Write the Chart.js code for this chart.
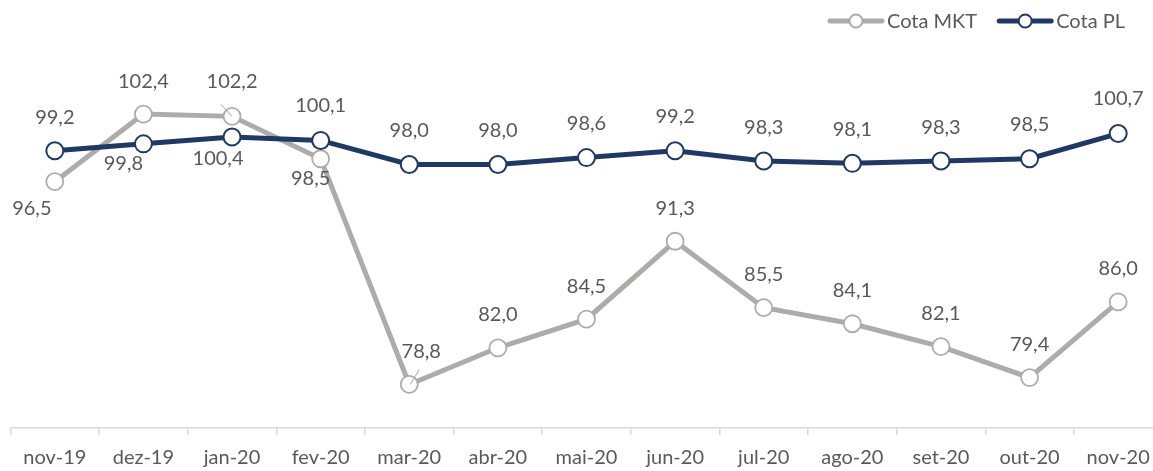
<!DOCTYPE html>
<html><head><meta charset="utf-8">
<script src="https://cdn.jsdelivr.net/npm/chart.js@4.4.0/dist/chart.umd.min.js"></script>
<style>html,body{margin:0;padding:0;background:#fff;overflow:hidden}
#wrap{width:1153px;height:471px;position:relative;overflow:hidden}
</style></head><body>
<div id="wrap"><canvas id="c" width="1173" height="481"></canvas></div>
<script>
const categories = ['nov-19','dez-19','jan-20','fev-20','mar-20','abr-20','mai-20','jun-20','jul-20','ago-20','set-20','out-20','nov-20'];
const cotaMKT = [96.5,102.4,102.2,98.5,78.8,82.0,84.5,91.3,85.5,84.1,82.1,79.4,86.0];
const cotaPL = [99.2,99.8,100.4,100.1,98.0,98.0,98.6,99.2,98.3,98.1,98.3,98.5,100.7];
const seriesNames = ['Cota MKT','Cota PL'];

const GRAY = '#AEABAB';
const NAVY = '#1F3864';
const TEXT = '#595959';
const FONT = 'Lato, "Open Sans", sans-serif';

// label offsets (dx, dy) from each point, per dataset
const labelOffsets = [
  [[-23,27],[0,-33],[0,-35],[-10,20],[12,-33],[0,-33],[0,-33],[0,-33],[0,-33],[0,-33],[0,-33],[0,-33],[0,-33]],
  [[0,-33],[-20,20],[-14,22],[0,-35],[0,-34],[0,-34],[0,-34],[0,-34],[0,-34],[0,-34],[0,-34],[0,-34],[0,-35]]
];
const leaders = [
  {2:[-11,-12,0,0], 4:[10,-15,1,0]},
  {}
];

const fmt = v => v.toFixed(1).replace('.', ',');

const labelPlugin = {
  id: 'valueLabels',
  afterDatasetsDraw(chart) {
    const ctx = chart.ctx;
    ctx.save();
    chart.data.datasets.forEach((ds, di) => {
      const meta = chart.getDatasetMeta(di);
      meta.data.forEach((pt, i) => {
        const ld = leaders[di][i];
        if (ld) {
          ctx.strokeStyle = '#A6A6A6';
          ctx.lineWidth = 1;
          ctx.beginPath();
          ctx.moveTo(pt.x + ld[0], pt.y + ld[1]);
          ctx.lineTo(pt.x + ld[2], pt.y + ld[3]);
          ctx.stroke();
        }
        const off = labelOffsets[di][i];
        ctx.fillStyle = TEXT;
        ctx.font = '20px ' + FONT;
        ctx.textAlign = 'center';
        ctx.textBaseline = 'middle';
        ctx.fillText(fmt(ds.data[i]), pt.x + off[0], pt.y + off[1]);
      });
    });
    ctx.restore();
  },
  afterDraw(chart) {
    const ctx = chart.ctx;
    ctx.save();
    ctx.font = '20px ' + FONT;
    const sample = 56, gapText = 3, gapItem = 20, right = 1125, cy = 21;
    const items = chart.data.datasets.map(ds => ({ds, w: ctx.measureText(ds.label).width}));
    let total = items.reduce((s, it) => s + sample + gapText + it.w, 0) + gapItem * (items.length - 1);
    let x = right - total;
    items.forEach(it => {
      ctx.strokeStyle = it.ds.borderColor;
      ctx.lineWidth = 5;
      ctx.lineCap = 'round';
      ctx.beginPath();
      ctx.moveTo(x + 2, cy);
      ctx.lineTo(x + sample - 2, cy);
      ctx.stroke();
      ctx.beginPath();
      ctx.arc(x + sample / 2, cy, 6.5, 0, Math.PI * 2);
      ctx.fillStyle = '#fff';
      ctx.fill();
      ctx.lineWidth = 2;
      ctx.stroke();
      ctx.fillStyle = TEXT;
      ctx.textAlign = 'left';
      ctx.textBaseline = 'middle';
      ctx.fillText(it.ds.label, x + sample + gapText, cy + 1);
      x += sample + gapText + it.w + gapItem;
    });
    ctx.restore();
  }
};

new Chart(document.getElementById('c'), {
  type: 'line',
  data: {
    labels: categories,
    datasets: [
      {
        label: seriesNames[0], data: cotaMKT, order: 1,
        borderColor: GRAY, borderWidth: 5,
        pointRadius: 8.5, pointBorderWidth: 1.8, pointBackgroundColor: '#fff', pointBorderColor: GRAY,
        tension: 0
      },
      {
        label: seriesNames[1], data: cotaPL, order: 0,
        borderColor: NAVY, borderWidth: 5,
        pointRadius: 8.5, pointBorderWidth: 2, pointBackgroundColor: '#fff', pointBorderColor: NAVY,
        tension: 0
      }
    ]
  },
  options: {
    responsive: false,
    animation: false,
    devicePixelRatio: 1,
    layout: { padding: { left: 10.5, right: 0, top: 27, bottom: 0 } },
    plugins: { legend: { display: false }, tooltip: { enabled: false } },
    scales: {
      y: { display: false, min: 75, max: 110 },
      x: {
        offset: true,
        grid: { offset: true, drawOnChartArea: false, drawTicks: true, tickLength: 7, color: '#D9D9D9', lineWidth: 1.5 },
        border: { color: '#D9D9D9', width: 1.5 },
        ticks: { color: TEXT, font: { family: FONT, size: 20 }, padding: 11, maxRotation: 0, autoSkip: false }
      }
    }
  },
  plugins: [labelPlugin]
});
</script>
</body></html>
